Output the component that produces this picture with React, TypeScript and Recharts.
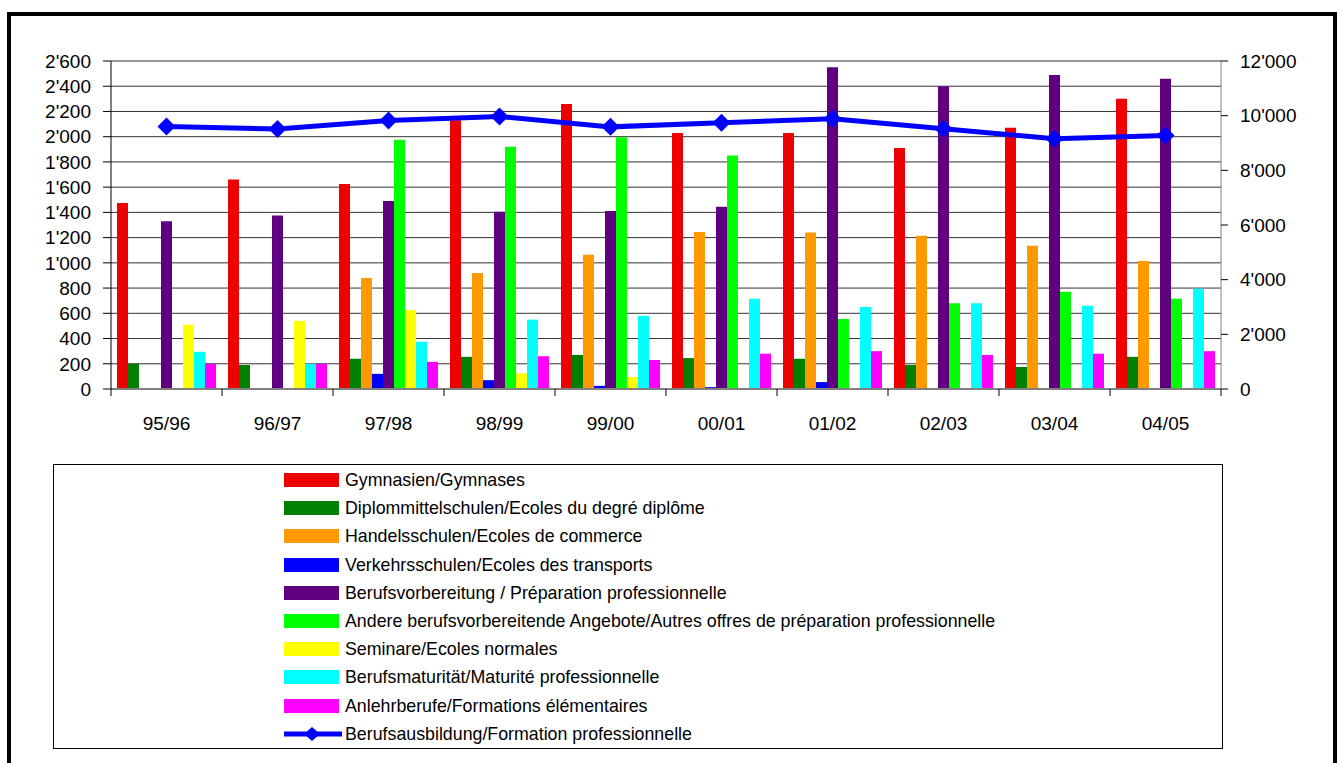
import React from 'react';
import { ComposedChart, Bar, Line, XAxis, YAxis, CartesianGrid } from 'recharts';

const categories = ['95/96', '96/97', '97/98', '98/99', '99/00', '00/01', '01/02', '02/03', '03/04', '04/05'];

const gymnasien = [1475, 1660, 1625, 2130, 2260, 2030, 2030, 1910, 2070, 2300];
const diplommittelschulen = [200, 190, 240, 255, 270, 245, 240, 190, 175, 255];
const handelsschulen = [null, null, 880, 920, 1065, 1245, 1240, 1215, 1135, 1015];
const verkehrsschulen = [null, null, 120, 70, 25, 15, 55, null, null, null];
const berufsvorbereitung = [1330, 1375, 1490, 1405, 1410, 1445, 2550, 2400, 2490, 2460];
const andereAngebote = [null, null, 1975, 1920, 1995, 1850, 555, 680, 770, 715];
const seminare = [510, 540, 625, 125, 95, 5, null, null, null, null];
const berufsmaturitaet = [295, 200, 375, 550, 580, 715, 650, 680, 660, 795];
const anlehrberufe = [200, 200, 215, 260, 230, 280, 300, 270, 280, 300];
const berufsausbildung = [9600, 9510, 9820, 9970, 9590, 9740, 9890, 9520, 9160, 9270];

const leftTicks = [0, 200, 400, 600, 800, 1000, 1200, 1400, 1600, 1800, 2000, 2200, 2400, 2600];
const rightTicks = [0, 2000, 4000, 6000, 8000, 10000, 12000];

const barSeries = [
  { key: 'gym', name: 'Gymnasien/Gymnases', color: '#EE0000', values: gymnasien },
  { key: 'dms', name: 'Diplommittelschulen/Ecoles du degré diplôme', color: '#008000', values: diplommittelschulen },
  { key: 'hms', name: 'Handelsschulen/Ecoles de commerce', color: '#FF9900', values: handelsschulen },
  { key: 'vs', name: 'Verkehrsschulen/Ecoles des transports', color: '#0000FF', values: verkehrsschulen },
  { key: 'bv', name: 'Berufsvorbereitung / Préparation professionnelle', color: '#600080', values: berufsvorbereitung },
  { key: 'and', name: 'Andere berufsvorbereitende Angebote/Autres offres de préparation professionnelle', color: '#00FF00', values: andereAngebote },
  { key: 'sem', name: 'Seminare/Ecoles normales', color: '#FFFF00', values: seminare },
  { key: 'bm', name: 'Berufsmaturität/Maturité professionnelle', color: '#00FFFF', values: berufsmaturitaet },
  { key: 'anl', name: 'Anlehrberufe/Formations élémentaires', color: '#FF00FF', values: anlehrberufe },
];
const lineSeries = { key: 'ba', name: 'Berufsausbildung/Formation professionnelle', color: '#0000FF', values: berufsausbildung };

const data = categories.map((cat, i) => {
  const row: any = { cat };
  barSeries.forEach((s) => { row[s.key] = s.values[i]; });
  row[lineSeries.key] = lineSeries.values[i];
  return row;
});

const FONT = '"Liberation Sans", Arial, sans-serif';

const fmt = (n: number) => {
  if (n < 1000) return String(n);
  return `${Math.floor(n / 1000)}'${String(n % 1000).padStart(3, '0')}`;
};

const CHART_W = 1343;
const CHART_H = 460;
const LEFT_W = 111;
const RIGHT_W = 122;
const BAND = (CHART_W - LEFT_W - RIGHT_W) / categories.length;

const CatTick = (props: any) => {
  const { x, y, payload, index } = props;
  const last = index === categories.length - 1;
  return (
    <g>
      <line x1={x - BAND / 2} x2={x - BAND / 2} y1={y} y2={y + 7} stroke="#000" />
      {last && <line x1={x + BAND / 2} x2={x + BAND / 2} y1={y} y2={y + 7} stroke="#000" />}
      <text x={x} y={y + 34} dy="0.355em" textAnchor="middle" fontSize={19} fontFamily={FONT} fill="#000">
        {payload.value}
      </text>
    </g>
  );
};

const Diamond = (props: any) => {
  const { cx, cy } = props;
  if (cx == null || cy == null) return null;
  const r = 9;
  return <polygon points={`${cx},${cy - r} ${cx + r},${cy} ${cx},${cy + r} ${cx - r},${cy}`} fill="#0000FF" />;
};

export default function App() {
  const rows = [...barSeries.map((s) => ({ ...s, isLine: false })), { ...lineSeries, isLine: true }];
  return (
    <div>
      <div
        style={{
          position: 'absolute',
          left: 7,
          top: 12,
          width: 1330,
          height: 800,
          border: '4px solid #000',
          boxSizing: 'border-box',
        }}
      />
      <div style={{ position: 'absolute', left: 0, top: 0 }}>
        <ComposedChart
          width={CHART_W}
          height={CHART_H}
          data={data}
          margin={{ top: 61, right: 0, bottom: 0, left: 0 }}
          barCategoryGap={6}
          barGap={0}
        >
          <CartesianGrid vertical={false} stroke="#333" yAxisId="left" />
          <XAxis
            dataKey="cat"
            height={71}
            tickSize={0}
            tickMargin={0}
            tick={<CatTick />}
            axisLine={{ stroke: '#808080', strokeWidth: 2 }}
            interval={0}
          />
          <YAxis
            yAxisId="left"
            width={LEFT_W}
            domain={[0, 2600]}
            ticks={leftTicks}
            interval={0}
            tickFormatter={fmt}
            tickSize={8}
            tickMargin={12}
            axisLine={{ stroke: '#000' }}
            tickLine={{ stroke: '#000' }}
            tick={{ fontSize: 19, fontFamily: FONT, fill: '#000' }}
          />
          <YAxis
            yAxisId="right"
            orientation="right"
            width={RIGHT_W}
            domain={[0, 12000]}
            ticks={rightTicks}
            interval={0}
            tickFormatter={fmt}
            tickSize={7}
            tickMargin={12}
            axisLine={{ stroke: '#808080' }}
            tickLine={{ stroke: '#000' }}
            tick={{ fontSize: 19, fontFamily: FONT, fill: '#000', textAnchor: 'start' }}
          />
          {barSeries.map((s) => (
            <Bar key={s.key} dataKey={s.key} name={s.name} fill={s.color} yAxisId="left" isAnimationActive={false} />
          ))}
          <Line
            dataKey={lineSeries.key}
            name={lineSeries.name}
            yAxisId="right"
            stroke={lineSeries.color}
            strokeWidth={5}
            dot={<Diamond />}
            activeDot={false}
            isAnimationActive={false}
          />
        </ComposedChart>
      </div>
      <div
        style={{
          position: 'absolute',
          left: 53,
          top: 464,
          width: 1170,
          height: 285,
          border: '1px solid #000',
          boxSizing: 'border-box',
          fontFamily: FONT,
          fontSize: 17.8,
          color: '#000',
        }}
      >
        {rows.map((r, i) => (
          <div key={r.key} style={{ position: 'absolute', left: 0, top: 1 + i * 28.2, height: 28, width: '100%' }}>
            {r.isLine ? (
              <svg style={{ position: 'absolute', left: 229, top: 7 }} width={60} height={16}>
                <line x1={1} x2={59} y1={7} y2={7} stroke={r.color} strokeWidth={5} />
                <polygon points="29,0 37,7 29,14 21,7" fill={r.color} />
              </svg>
            ) : (
              <div style={{ position: 'absolute', left: 230, top: 7, width: 55, height: 14, background: r.color }} />
            )}
            <div style={{ position: 'absolute', left: 291, top: 3, whiteSpace: 'nowrap', lineHeight: '22px' }}>{r.name}</div>
          </div>
        ))}
      </div>
    </div>
  );
}
